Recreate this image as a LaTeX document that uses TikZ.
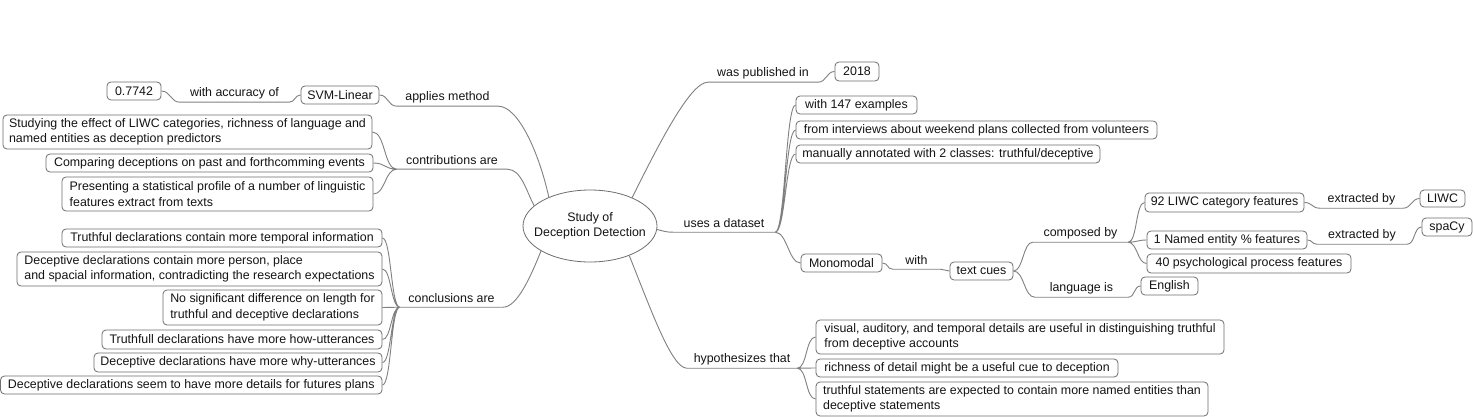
\documentclass[tikz,border=0pt]{standalone}
\usepackage{fontspec}
\setmainfont{Liberation Sans}
\usetikzlibrary{shapes.geometric}
\definecolor{ln}{RGB}{128,128,128}
\definecolor{bd}{RGB}{110,110,110}
\definecolor{tx}{RGB}{20,20,20}
\newcommand\mybox[6]{\node[box, minimum width={#4-#2}, minimum height={#5-#3}] (#1) at ({(#2+#4)/2},{(#3+#5)/2}) {#6};}
\newcommand\mylbl[5]{\node[lab, minimum width={#3-#2}] (#1) at ({(#2+#3)/2},{#4-9}) {#5};}
\begin{document}
\begin{tikzpicture}[x=1pt,y=-1pt,
  font=\fontsize{12.4}{15.5}\selectfont, text=tx,
  box/.style={draw=bd, line width=0.8pt, rounded corners=4pt, inner xsep=0pt, inner ysep=0pt, align=left},
  lab/.style={inner sep=0pt, minimum height=18pt},
  conn/.style={draw=ln, line width=0.9pt},
  hv/.style={to path={.. controls +(#1,0) and +(-#1,0) .. (\tikztotarget)}},
  hv/.default=8]
\fill[white] (0,0) rectangle (1473,417);
\useasboundingbox (0,0) rectangle (1473,417);

\node[ellipse, draw=bd, line width=0.8pt, minimum width=134pt, minimum height=72pt, inner xsep=-13pt, inner ysep=-4pt, align=center] (root) at (590,226) {Study of\\Deception Detection};

% left boxes
\mybox{acc}{107}{82}{161}{100}{0.7742}
\mybox{svm}{301}{86}{379}{104}{SVM-Linear}
\mybox{c1}{3}{115}{372}{149}{Studying the effect of LIWC categories, richness of language and\\named entities as deception predictors}
\mybox{c2}{46}{154}{373}{172}{Comparing deceptions on past and forthcomming events}
\mybox{c3}{62}{177}{373}{211}{Presenting a statistical profile of a number of linguistic\\features extract from texts}
\mybox{k1}{62}{229}{382}{247}{Truthful declarations contain more temporal information}
\mybox{k2}{17}{252}{382}{286}{Deceptive declarations contain more person, place\\and spacial information, contradicting the research expectations}
\mybox{k3}{163}{290}{382}{325}{No significant difference on length for\\truthful and deceptive declarations}
\mybox{k4}{102}{330}{382}{349}{Truthfull declarations have more how-utterances}
\mybox{k5}{94}{353}{382}{372}{Deceptive declarations have more why-utterances}
\mybox{k6}{0.5}{376}{382}{394}{Deceptive declarations seem to have more details for futures plans}
% right boxes
\mybox{y18}{835}{62}{879}{81}{2018}
\mybox{d1}{796}{96}{917}{114}{with 147 examples}
\mybox{d2}{796}{121}{1157}{139}{from interviews about weekend plans collected from volunteers}
\mybox{d3}{796}{145}{1100}{163}{manually annotated with 2 classes: truthful/deceptive}
\mybox{mono}{801}{254}{882}{272}{Monomodal}
\mybox{tc}{950}{262}{1013}{280}{text cues}
\mybox{f1}{1145}{193}{1304}{212}{92 LIWC category features}
\mybox{f2}{1147}{231}{1307}{249}{1 Named entity \% features}
\mybox{f3}{1147}{254}{1351}{273}{40 psychological process features}
\mybox{eng}{1141}{277}{1198}{295}{English}
\mybox{liwc}{1420}{190}{1465}{207}{LIWC}
\mybox{spacy}{1422}{218}{1472}{236}{spaCy}
\mybox{h1}{816}{320}{1224}{354}{visual, auditory, and temporal details are useful in distinguishing truthful\\from deceptive accounts}
\mybox{h2}{816}{359}{1118}{377}{richness of detail might be a useful cue to deception}
\mybox{h3}{816}{382}{1208}{416}{truthful statements are expected to contain more named entities than\\deceptive statements}

% labels
\mylbl{lacc}{180}{289}{102}{with accuracy of}
\mylbl{lam}{397}{498}{106}{applies method}
\mylbl{lcon}{397}{507}{169}{contributions are}
\mylbl{lcl}{400}{503}{307}{conclusions are}
\mylbl{lpub}{708}{818}{82}{was published in}
\mylbl{lds}{673}{775}{232}{uses a dataset}
\mylbl{lw}{893}{940}{269}{with}
\mylbl{lcomp}{1033}{1128}{242}{composed by}
\mylbl{llang}{1035}{1128}{297}{language is}
\mylbl{lx1}{1320}{1403}{208}{extracted by}
\mylbl{lx2}{1317}{1407}{244}{extracted by}
\mylbl{lhyp}{687}{797}{368}{hypothesizes that}

% connectors: left
\path[conn] (acc.east) to[hv=9] (lacc.south west) -- (lacc.south east) to[hv=6] (svm.west);
\path[conn] (svm.east) to[hv=9] (lam.south west) -- (lam.south east) .. controls +(20,0) and +(-10,-45) .. (root.145);
\path[conn] (c1.east) to[hv=13] (lcon.south west) (c2.east) to[hv=12] (lcon.south west) (c3.east) to[hv=12] (lcon.south west);
\path[conn] (lcon.south west) -- (lcon.south east) .. controls +(14,0) and +(-8,-15) .. (root.160);
\path[conn] (k1.east) to[hv=9] (lcl.south west) (k2.east) to[hv=9] (lcl.south west)
  (k3.east) to[hv=9] (lcl.south west) (k4.east) to[hv=9] (lcl.south west)
  (k5.east) to[hv=9] (lcl.south west) (k6.east) to[hv=9] (lcl.south west);
\path[conn] (lcl.south west) -- (lcl.south east) .. controls +(14,0) and +(-10,25) .. (root.207);
% connectors: right
\path[conn] (root.34) .. controls +(25,-50) and +(-18,0) .. (lpub.south west) -- (lpub.south east) to[hv=8] (y18.west);
\path[conn] (root.-3) .. controls +(8,2) and +(-6,0) .. (lds.south west) -- (lds.south east);
\path[conn] (lds.south east) to[hv=10] (d1.west) (lds.south east) to[hv=10] (d2.west)
  (lds.south east) to[hv=10] (d3.west) (lds.south east) to[hv=12] (mono.west);
\path[conn] (mono.east) to[hv=6] (lw.south west) -- (lw.south east) to[hv=5] (tc.west);
\path[conn] (tc.east) to[hv=10] (lcomp.south west) -- (lcomp.south east);
\path[conn] (tc.east) to[hv=11] (llang.south west) -- (llang.south east) to[hv=7] (eng.west);
\path[conn] (lcomp.south east) to[hv=9] (f1.west) (lcomp.south east) to[hv=9] (f2.west) (lcomp.south east) to[hv=9] (f3.west);
\path[conn] (f1.east) to[hv=8] (lx1.south west) -- (lx1.south east) to[hv=8] (liwc.west);
\path[conn] (f2.east) to[hv=5] (lx2.south west) -- (lx2.south east) to[hv=8] (spacy.west);
\path[conn] (root.-37) .. controls +(22,55) and +(-15,0) .. (lhyp.south west) -- (lhyp.south east);
\path[conn] (lhyp.south east) to[hv=10] (h1.west) (lhyp.south east) to[hv=10] (h2.west) (lhyp.south east) to[hv=10] (h3.west);
\end{tikzpicture}
\end{document}
